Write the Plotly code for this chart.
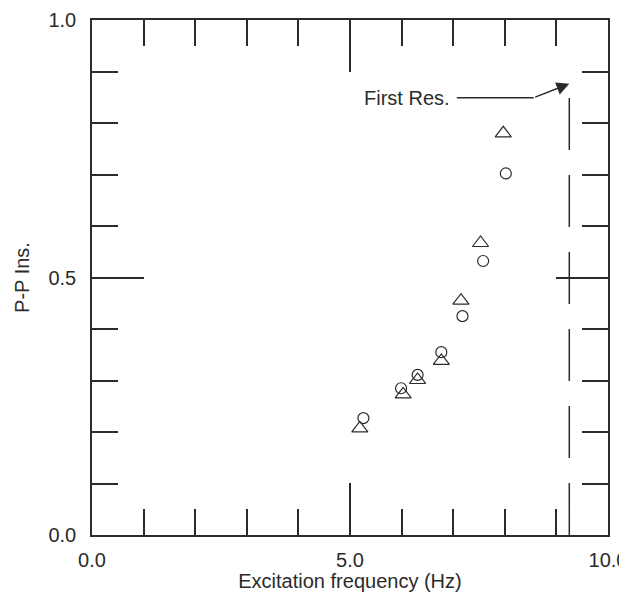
import plotly.graph_objects as go

# Data
tri_x = [5.19, 6.03, 6.31, 6.77, 7.15, 7.53, 7.97]
tri_y = [0.207, 0.273, 0.301, 0.338, 0.455, 0.567, 0.780]
circ_x = [5.26, 5.99, 6.31, 6.77, 7.18, 7.58, 8.02]
circ_y = [0.227, 0.285, 0.311, 0.355, 0.425, 0.532, 0.702]

x_major = [0, 5, 10]
x_labels = ["0.0", "5.0", "10.0"]
y_major = [0, 0.5, 1.0]
y_labels = ["0.0", "0.5", "1.0"]

res_freq = 9.25
res_top = 0.876
label_text = "First Res."
label_x = 6.97
bend_x = 8.56
bend_y = 0.849

INK = "#2b2b2b"
FONT = "Liberation Sans, Arial, sans-serif"
FS = 20

fig = go.Figure()
fig.add_trace(go.Scatter(
    x=tri_x, y=tri_y, mode="markers",
    marker=dict(symbol="triangle-up-open", size=14, color=INK, line=dict(width=1.2, color=INK)),
    showlegend=False))
fig.add_trace(go.Scatter(
    x=circ_x, y=circ_y, mode="markers",
    marker=dict(symbol="circle-open", size=11, color=INK, line=dict(width=1.2, color=INK)),
    showlegend=False))

# resonance dashed line
fig.add_shape(type="line", x0=res_freq, x1=res_freq, y0=0, y1=res_top,
              line=dict(color=INK, width=1.5, dash="52px,25px"))
# horizontal leader line
fig.add_shape(type="line", x0=label_x + 0.1, x1=bend_x, y0=bend_y, y1=bend_y,
              line=dict(color=INK, width=1.5))
fig.add_annotation(x=label_x, y=bend_y, text=label_text, showarrow=False,
                   xanchor="right", yanchor="middle", font=dict(size=FS, color=INK, family=FONT))
fig.add_annotation(x=res_freq, y=res_top, ax=bend_x, ay=bend_y, axref="x", ayref="y",
                   text="", showarrow=True, arrowhead=2, arrowsize=1.7, arrowwidth=1.5,
                   arrowcolor=INK, standoff=0)

axis_common = dict(showgrid=False, zeroline=False, showline=True, linecolor=INK, linewidth=1.5,
                   mirror="ticks", ticks="inside", tickcolor=INK, tickwidth=1.5, ticklen=52,
                   automargin=False, ticklabeloverflow="allow",
                   tickfont=dict(size=FS, color=INK, family=FONT))

fig.update_xaxes(range=[0, 10], tickvals=x_major, ticktext=x_labels, ticklabelstandoff=6,
                 minor=dict(dtick=1, ticks="inside", ticklen=26, tickcolor=INK, tickwidth=1.5),
                 title=dict(text="Excitation frequency (Hz)", font=dict(size=FS, color=INK, family=FONT), standoff=2),
                 **axis_common)
fig.update_yaxes(range=[0, 1], tickvals=y_major, ticktext=y_labels, ticklabelstandoff=10,
                 minor=dict(dtick=0.1, ticks="inside", ticklen=26, tickcolor=INK, tickwidth=1.5),
                 title=dict(text="P-P Ins.", font=dict(size=FS, color=INK, family=FONT), standoff=13),
                 **axis_common)

fig.update_layout(width=619, height=584, margin=dict(l=84, r=19, t=12, b=57, autoexpand=False),
                  plot_bgcolor="white", paper_bgcolor="white",
                  font=dict(family=FONT, size=FS, color=INK))

fig.write_html("out.html")
